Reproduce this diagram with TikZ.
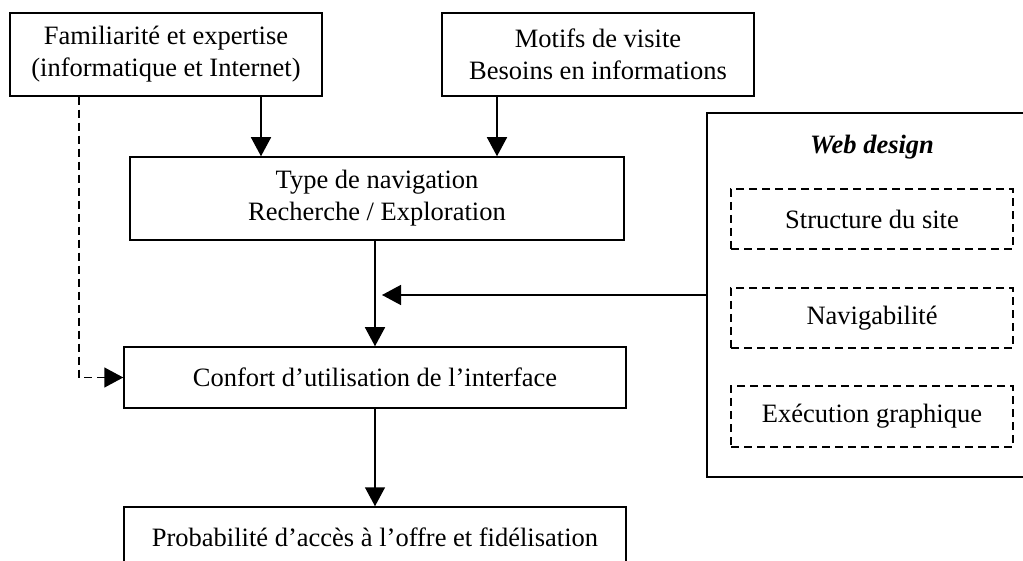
\documentclass[tikz,border=0pt]{standalone}
\usepackage{fontspec}
\setmainfont{Liberation Serif}
\usetikzlibrary{arrows.meta}
\begin{document}
\begin{tikzpicture}[x=1pt,y=-1pt,
  lw/.style={line width=1.5pt},
  box/.style={draw, lw, inner sep=0pt, align=center, font=\fontsize{26.5}{31.8}\selectfont},
  dbox/.style={box, dash pattern=on 8pt off 5pt},
  arr/.style={lw, -{Triangle[width=20pt,length=19pt]}},
  darr/.style={arr, dash pattern=on 8pt off 5pt}]
\useasboundingbox (0,0) rectangle (1023,561);
\node[box, minimum width=312pt, minimum height=83pt] (A) at (166,54.5) {Familiarité et expertise\\(informatique et Internet)};
\node[box, minimum width=312pt, minimum height=83pt] (B) at (598,54.5) {Motifs de visite\\Besoins en informations};
\node[box, minimum width=494pt, minimum height=83pt] (T) at (377,198.5) {Type de navigation\\Recherche / Exploration};
\node[box, minimum width=502pt, minimum height=61pt] (C) at (375,377.5) {Confort d’utilisation de l’interface};
\node[box, minimum width=502pt, minimum height=61pt] (P) at (375,537.5) {Probabilité d’accès à l’offre et fidélisation};
\node[box, minimum width=330pt, minimum height=364pt] (W) at (872,295) {};
\node[font=\fontsize{26.5}{31.8}\selectfont\bfseries\itshape] (WT) at (872,147) {Web design};
\node[dbox, minimum width=282pt, minimum height=60pt] (S1) at (872,219) {Structure du site};
\node[dbox, minimum width=282pt, minimum height=60pt] (S2) at (872,318) {Navigabilité};
\node[dbox, minimum width=282pt, minimum height=61pt] (S3) at (872,416.5) {Exécution graphique};
\coordinate (tip) at (382,295);
\draw[arr] ([xshift=95pt]A.south) -- ([xshift=95pt]A.south |- T.north);
\draw[arr] ([xshift=-101pt]B.south) -- ([xshift=-101pt]B.south |- T.north);
\draw[arr] (C.north |- T.south) -- (C.north);
\draw[arr] (W.west) -- (tip);
\draw[arr] (C.south) -- (P.north);
\draw[darr] ([xshift=-87pt]A.south) |- (C.west);
\end{tikzpicture}
\end{document}
